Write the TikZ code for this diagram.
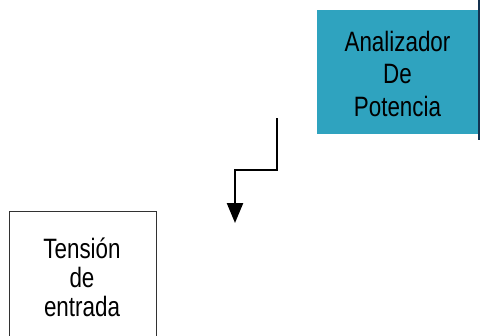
\documentclass[tikz,border=0pt]{standalone}
\usepackage{fontspec}
\setmainfont[FakeStretch=0.8]{Liberation Sans}
\usetikzlibrary{arrows.meta}
\definecolor{teal1}{RGB}{47,163,191}
\definecolor{navy1}{RGB}{20,50,80}
\definecolor{edge1}{RGB}{50,50,50}
\tikzset{
  lbl/.style={align=center, inner sep=0pt, font=\fontsize{28bp}{32.5bp}\selectfont},
  lbl2/.style={align=center, inner sep=0pt, font=\fontsize{28bp}{29bp}\selectfont},
  wire/.style={line width=2.4bp, -{Triangle[width=16bp,length=20bp]}}
}
\begin{document}
\begin{tikzpicture}[x=1bp,y=-1bp]
\useasboundingbox (0,0) rectangle (480,335);
\clip (0,0) rectangle (480,335);
\fill[white] (0,0) rectangle (480,335);
% teal box
\node[fill=teal1, draw=none, minimum width=162bp, minimum height=124bp, inner sep=0pt, anchor=north west] (ana) at (317,9.5) {};
\draw[navy1, line width=2bp] (479,0) -- (479,140);
\node[lbl, anchor=base] (anatext) at (397.5,116) {Analizador\\De\\Potencia};
% white box
\node[draw=edge1, line width=1.4bp, minimum width=147bp, minimum height=140bp, inner sep=0pt, anchor=north west] (ten) at (8.5,210.5) {};
\node[lbl2, anchor=base] (tentext) at (82,316) {Tensión\\de\\entrada};
% connector
\coordinate (s) at (277,118);
\coordinate (e) at (235,223);
\draw[wire] (s) -- (277,170) -- (235,170) -- (e);
\end{tikzpicture}
\end{document}
